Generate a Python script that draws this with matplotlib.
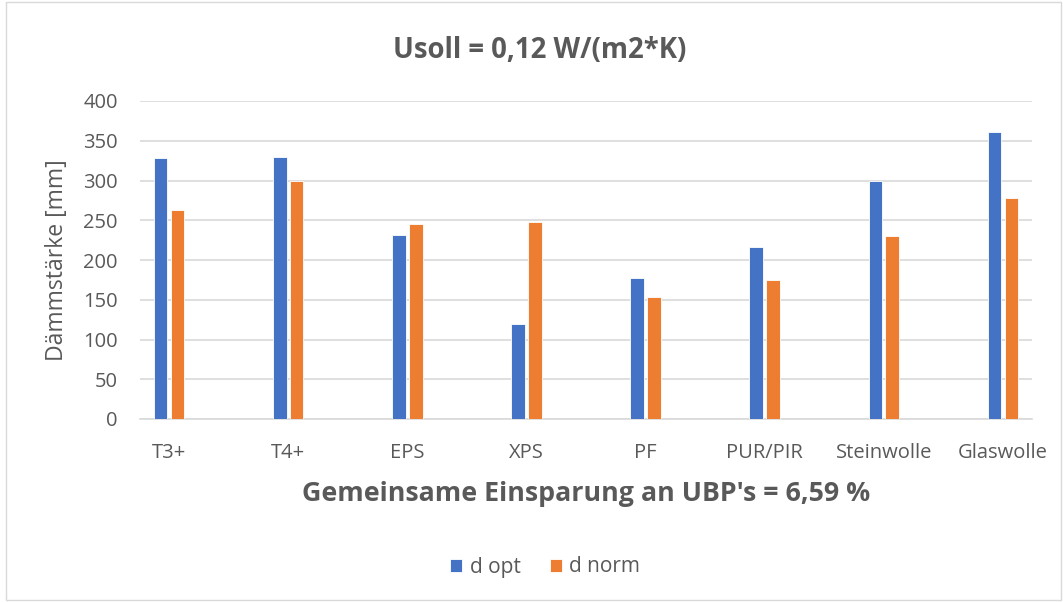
import matplotlib
matplotlib.use("Agg")
import matplotlib.pyplot as plt
from matplotlib.patches import Rectangle
import numpy as np

plt.rcParams['font.family'] = ['Open Sans', 'DejaVu Sans']

categories = ["T3+", "T4+", "EPS", "XPS", "PF", "PUR/PIR", "Steinwolle", "Glaswolle"]
d_opt = [328, 330, 231, 120, 177, 216, 300, 361]
d_norm = [263, 300, 245, 248, 153, 175, 230, 278]
series_names = ["d opt", "d norm"]
yticks = [0, 50, 100, 150, 200, 250, 300, 350, 400]

blue = "#4472C4"
orange = "#ED7D31"
gray = "#595959"

fig = plt.figure(figsize=(10.63, 6.02), dpi=100)
ax = fig.add_axes([140/1063, 1-419/602, (1032-140)/1063, (419-101)/602])

x = np.arange(len(categories))
w = 0.115
off = 0.071
ax.bar(x - off, d_opt, width=w, color=blue, edgecolor="white", linewidth=0.6, label=series_names[0], zorder=3)
ax.bar(x + off, d_norm, width=w, color=orange, edgecolor="white", linewidth=0.6, label=series_names[1], zorder=3)

ax.set_xlim(-0.244, len(categories) - 1 + 0.244)
ax.set_ylim(0, 400)
ax.set_yticks(yticks)
ax.set_xticks(x)
ax.set_xticklabels(categories)
ax.tick_params(axis='both', length=0, labelsize=14.5, colors=gray)
ax.tick_params(axis='x', pad=17)
ax.tick_params(axis='y', pad=16)
ax.yaxis.grid(True, color="#d9d9d9", linewidth=1.2, zorder=0)
ax.set_axisbelow(True)
for s in ["top", "right", "left"]:
    ax.spines[s].set_visible(False)
ax.spines["bottom"].set_color("#d9d9d9")
ax.spines["bottom"].set_linewidth(1.2)

ax.set_ylabel("Dämmstärke [mm]", fontsize=16.6, color=gray, va='center')
ax.yaxis.set_label_coords((57 - 140) / 892, 0.5)
ax.set_xlabel("Gemeinsame Einsparung an UBP's = 6,59 %", fontsize=19.3, fontweight='bold', color=gray, labelpad=13)

fig.text(540/1063, 1-50/602, "Usoll = 0,12 W/(m2*K)", fontsize=19.8, fontweight='bold', color=gray,
         ha='center', va='center')

leg = fig.legend(loc='center', bbox_to_anchor=(545/1063, 1-567/602), ncol=2, frameon=False,
                 fontsize=15, handlelength=0.6, handleheight=0.6, handletextpad=0.35, columnspacing=1.4)
for t in leg.get_texts():
    t.set_color(gray)

fig.patches.append(Rectangle((0.006, 0.003), 0.992, 0.994, transform=fig.transFigure,
                             fill=False, edgecolor="#d9d9d9", linewidth=1))

fig.savefig("out.png", dpi=100)
